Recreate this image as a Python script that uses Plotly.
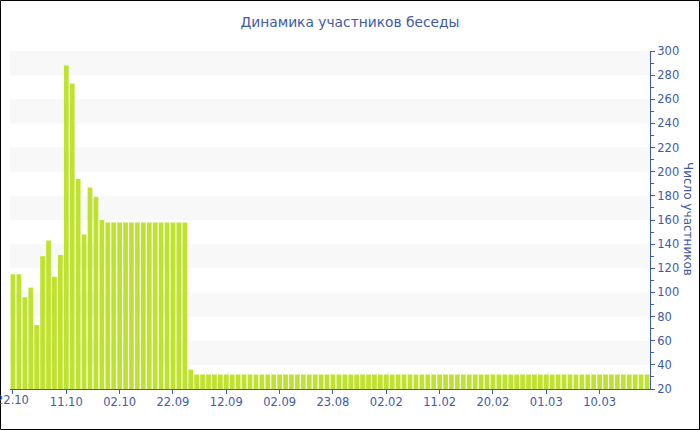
import plotly.graph_objects as go

# ---- data ----
head_values = [115, 115, 96, 104, 73, 130, 143, 113, 131, 288, 273, 194, 148, 187, 179, 160,
               158, 158, 158, 158, 158, 158, 158, 158, 158, 158, 158, 158, 158, 158, 36]
tail_values = [32] * 77
values = head_values + tail_values
bar_index = list(range(len(values)))

tick_positions = [0, 9, 18, 27, 36, 45, 54, 63, 72, 81, 90, 99]
tick_labels = ["22.10", "11.10", "02.10", "22.09", "12.09", "02.09", "23.08",
               "02.02", "11.02", "20.02", "01.03", "10.03"]

band_starts = [40, 80, 120, 160, 200, 240, 280]

TEXT = "#3f5aa5"
FONT = "DejaVu Sans"
W, H = 700, 430
ML, MR, MT, MB = 10, 50, 51, 41
PW, PH = W - ML - MR, H - MT - MB

fig = go.Figure()
fig.add_trace(go.Bar(
    x=bar_index, y=values,
    marker=dict(color="#bfe22e", line=dict(width=0)),
    hoverinfo="y",
))

shapes = []
for b in band_starts:
    shapes.append(dict(type="rect", xref="paper", yref="y", x0=0, x1=1, y0=b, y1=b + 20,
                       fillcolor="#f8f8f8", line=dict(width=0), layer="below"))
# outer border of the whole picture
shapes.append(dict(type="rect", xref="paper", yref="paper",
                   x0=(-ML + 0.5) / PW, x1=(W - ML - 0.5) / PW,
                   y0=(-MB + 0.5) / PH, y1=(H - MB - 0.5) / PH,
                   line=dict(color="black", width=1), fillcolor="rgba(0,0,0,0)"))

# first tick label is drawn as an annotation so it can be clipped by the picture edge
first_label = dict(text=tick_labels[0], xref="x", yref="paper", x=tick_positions[0],
                   y=-11 / PH, xanchor="center", yanchor="middle", showarrow=False,
                   font=dict(family=FONT, size=11.5, color=TEXT))

fig.update_layout(
    width=W, height=H,
    margin=dict(l=ML, r=MR, t=MT, b=MB, autoexpand=False),
    paper_bgcolor="white", plot_bgcolor="white",
    bargap=0.2,
    showlegend=False,
    font=dict(family=FONT, color=TEXT, size=11.5),
    title=dict(text="Динамика участников беседы", x=0.5, xanchor="center",
               y=1 - 22 / H, yanchor="middle",
               font=dict(family=FONT, size=13.8, color=TEXT)),
    shapes=shapes,
    annotations=[
        dict(text="Число участников", xref="paper", yref="paper",
             x=(688 - ML) / PW, y=(H - MB - 219) / PH,
             xanchor="center", yanchor="middle", textangle=90,
             showarrow=False, font=dict(family=FONT, size=12, color=TEXT)),
        first_label,
    ],
    xaxis=dict(
        range=[-0.5, len(values) - 0.5],
        tickmode="array", tickvals=tick_positions,
        ticktext=[""] + tick_labels[1:],
        showgrid=False, zeroline=False, automargin=False,
        showline=True, linecolor=TEXT, linewidth=1,
        ticks="outside", ticklen=4, tickcolor=TEXT,
        ticklabelstandoff=-2,
        tickfont=dict(family=FONT, size=11.5, color=TEXT),
    ),
    yaxis=dict(
        side="right", range=[20, 300], automargin=False,
        tickmode="linear", tick0=20, dtick=20,
        showgrid=False, zeroline=False,
        showline=True, linecolor=TEXT, linewidth=1,
        ticks="outside", ticklen=4, tickcolor=TEXT,
        tickfont=dict(family=FONT, size=11.5, color=TEXT),
        minor=dict(ticks="outside", ticklen=3, dtick=10, tickcolor=TEXT, showgrid=False),
    ),
)

fig.write_html("out.html", config={"displayModeBar": False},
               post_script="document.body.style.margin='0px';")
